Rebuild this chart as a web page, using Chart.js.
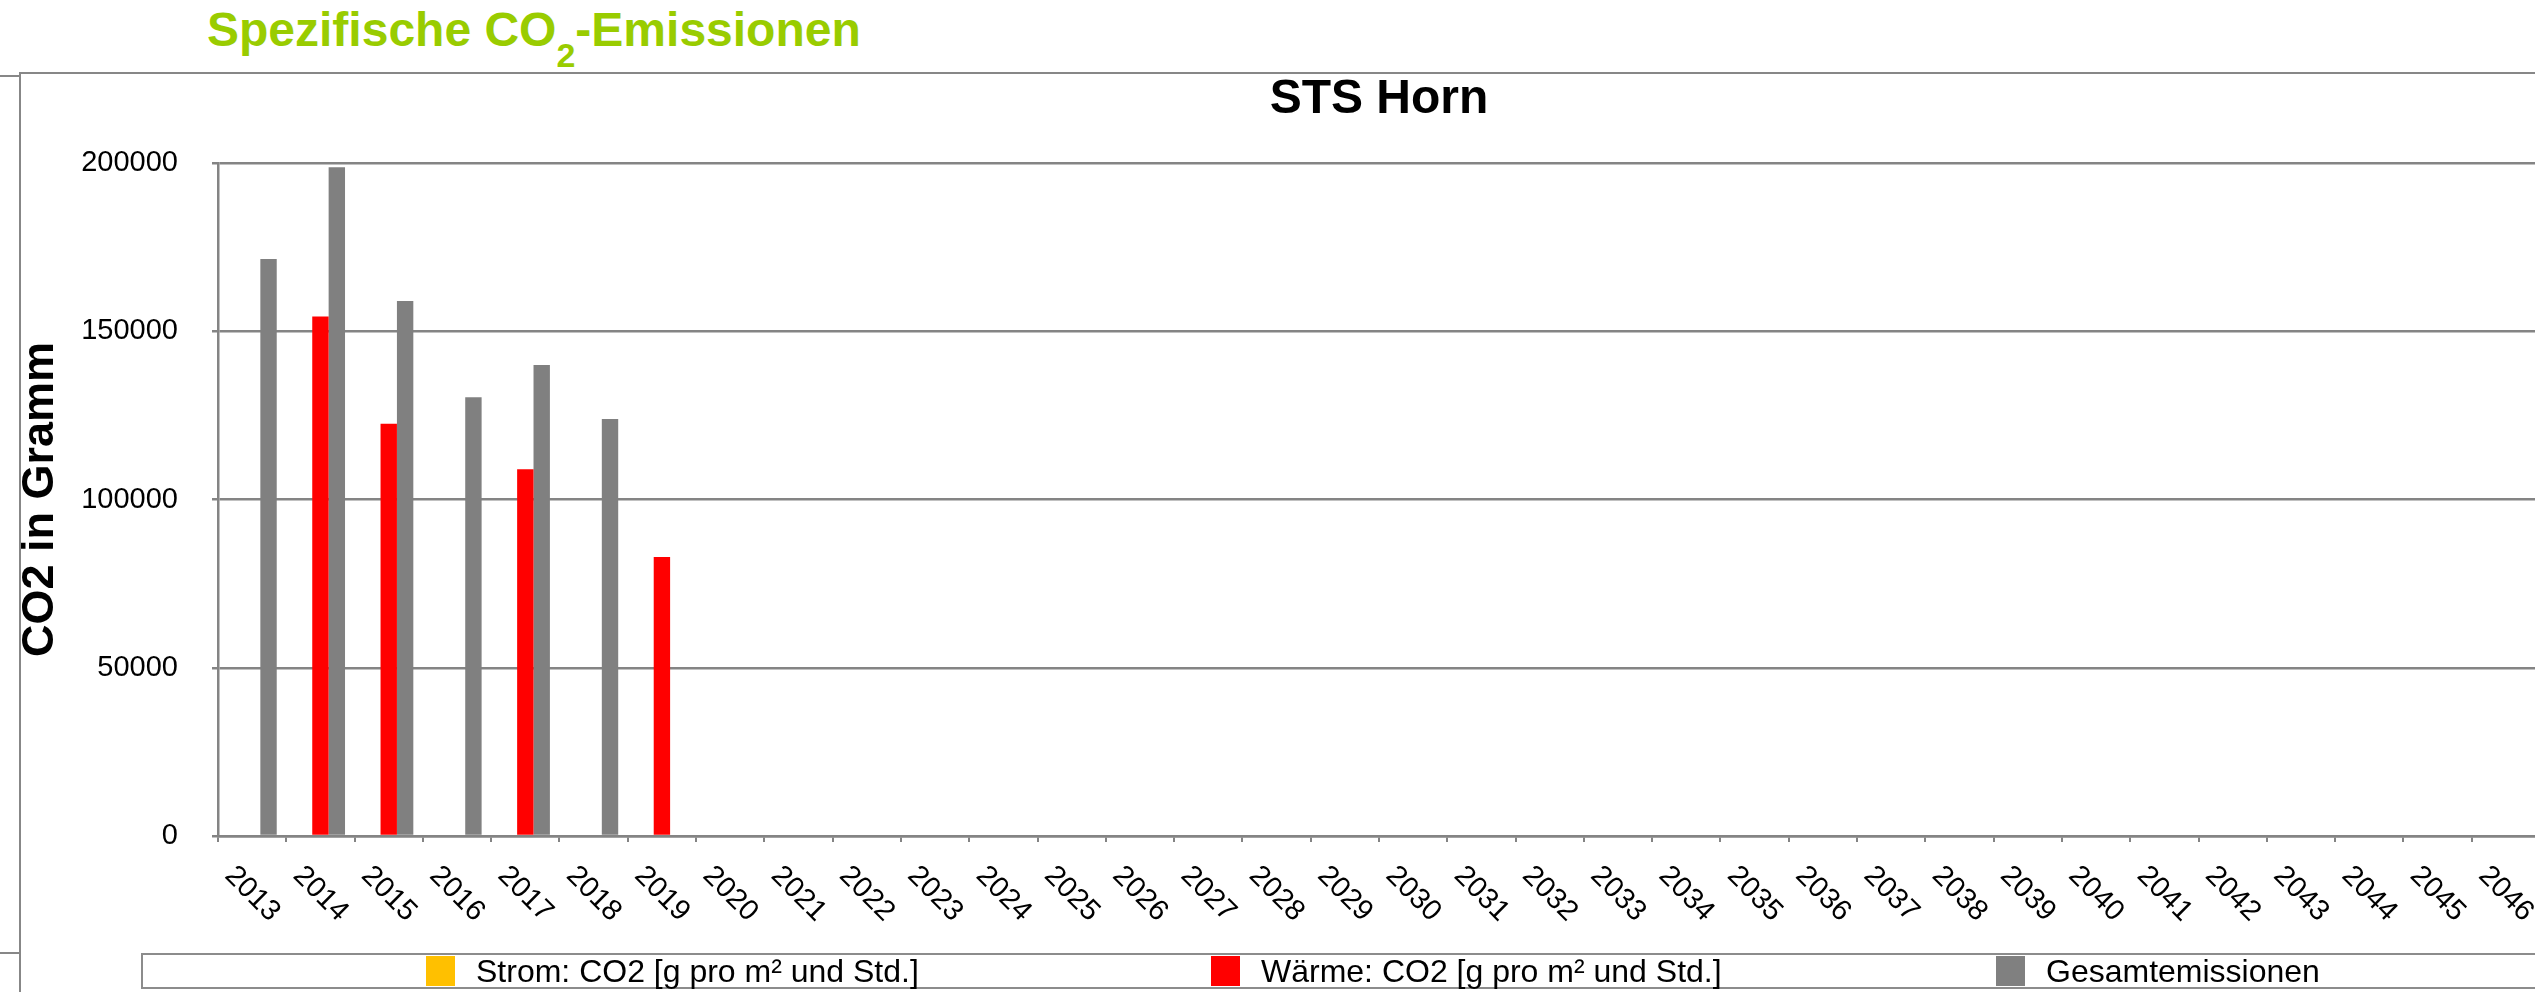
<!DOCTYPE html>
<html lang="de">
<head>
<meta charset="utf-8">
<title>Spezifische CO2-Emissionen - STS Horn</title>
<script src="https://cdn.jsdelivr.net/npm/chart.js@4.4.1/dist/chart.umd.min.js"></script>
<style>
  html, body { margin: 0; padding: 0; background: #fff; overflow: hidden; }
  body { width: 2535px; height: 992px; position: relative; font-family: "Liberation Sans", Arial, sans-serif; }
  .rule { position: absolute; background: #878787; }
  #heading { position: absolute; left: 207px; top: 6px; font-size: 48px; line-height: 48px; font-weight: bold; color: #99cc00; white-space: nowrap; }
  #heading sub { font-size: 34px; line-height: 0; vertical-align: -21px; }
  #chart-wrap { position: absolute; left: 0; top: 0; width: 2560px; height: 992px; }
  #legend { position: absolute; left: 141px; top: 953px; width: 2440px; height: 32px; border: 2px solid #8c8c8c;
            display: flex; align-items: center; padding-left: 283px; box-sizing: content-box; font-size: 32px; color: #000; }
  #legend .item { width: 785px; display: flex; align-items: center; white-space: nowrap; flex: none; }
  #legend .swatch { width: 29px; height: 30px; margin-right: 21px; flex: none; }
</style>
</head>
<body>
<div id="heading">Spezifische CO<sub>2</sub>-Emissionen</div>
<div class="rule" style="left:20px; top:72px; right:0; height:2px;"></div>
<div class="rule" style="left:19px; top:72px; width:2px; bottom:0;"></div>
<div class="rule" style="left:0; top:75px; width:20px; height:2px;"></div>
<div class="rule" style="left:0; top:952px; width:20px; height:2px;"></div>
<div id="chart-wrap"><canvas id="co2-chart" width="2560" height="992"></canvas></div>
<div id="legend"></div>

<script>
// Jahre auf der x-Achse
const years = ['2013', '2014', '2015', '2016', '2017', '2018', '2019', '2020', '2021', '2022',
  '2023', '2024', '2025', '2026', '2027', '2028', '2029', '2030', '2031', '2032', '2033', '2034',
  '2035', '2036', '2037', '2038', '2039', '2040', '2041', '2042', '2043', '2044', '2045', '2046'];

const seriesNames = ['Strom: CO2 [g pro m² und Std.]', 'Wärme: CO2 [g pro m² und Std.]', 'Gesamtemissionen'];
const seriesColors = ['#FFC000', '#FF0000', '#808080'];

// Werte in Gramm
const stromValues = [null, null, null, null, null, null, null];
const waermeValues = [null, 154400, 122500, null, 109000, null, 82900];
const gesamtValues = [171500, 198700, 159000, 130400, 140000, 123900, null];

const yTicks = [0, 50000, 100000, 150000, 200000];

const fontFamily = '"Liberation Sans", Arial, sans-serif';
const lineGray = '#848484';

// Legende als HTML (Excel verteilt die Einträge gleichmäßig)
const legendBox = document.getElementById('legend');
legendBox.innerHTML = seriesNames.map((name, i) => `
  <div class="item"><span class="swatch" style="background:${seriesColors[i]}"></span><span>${name}</span></div>
`).join('');

// x-Beschriftung im Uhrzeigersinn gedreht (wie im Original)
const rotatedYearLabels = {
  id: 'rotatedYearLabels',
  afterDraw(chart) {
    const xs = chart.scales.x;
    const ctx = chart.ctx;
    ctx.save();
    ctx.font = '29px ' + fontFamily;
    ctx.fillStyle = '#000';
    ctx.textAlign = 'center';
    ctx.textBaseline = 'middle';
    xs.ticks.forEach((t, i) => {
      const x = xs.getPixelForTick(i);
      ctx.save();
      ctx.translate(x, xs.top + 58);
      ctx.rotate(Math.PI / 4);
      ctx.fillText(years[i], 0, 0);
      ctx.restore();
    });
    ctx.restore();
  }
};

const ctx = document.getElementById('co2-chart').getContext('2d');
const co2Chart = new Chart(ctx, {
  type: 'bar',
  data: {
    labels: years,
    datasets: [
      { label: seriesNames[0], data: stromValues, backgroundColor: seriesColors[0] },
      { label: seriesNames[1], data: waermeValues, backgroundColor: seriesColors[1] },
      { label: seriesNames[2], data: gesamtValues, backgroundColor: seriesColors[2] }
    ]
  },
  options: {
    responsive: false,
    animation: false,
    categoryPercentage: 0.72,
    barPercentage: 1.0,
    layout: { padding: { top: 70, left: 0, right: 20, bottom: 36 } },
    scales: {
      x: {
        grid: { offset: true, drawOnChartArea: false, drawTicks: true, tickLength: 6, color: lineGray, lineWidth: 2 },
        border: { color: lineGray, width: 2.5 },
        ticks: { display: false },
        afterFit: (scale) => { scale.height = 120; }
      },
      y: {
        min: 0,
        max: 200000,
        afterBuildTicks: (scale) => { scale.ticks = yTicks.map(v => ({ value: v })); },
        grid: { color: lineGray, lineWidth: 2.5, tickLength: 6 },
        border: { color: lineGray, width: 2.5 },
        ticks: {
          color: '#000',
          padding: 34,
          font: { family: fontFamily, size: 29 },
          callback: (value) => String(value)
        },
        title: {
          display: true,
          text: 'CO2 in Gramm',
          color: '#000',
          padding: { top: 14, bottom: 0 },
          font: { family: fontFamily, size: 45, weight: 'bold' }
        },
        afterFit: (scale) => { scale.width = 218; }
      }
    },
    plugins: {
      legend: { display: false },
      tooltip: { enabled: false },
      title: {
        display: true,
        text: 'STS Horn',
        fullSize: false,
        color: '#000',
        padding: { top: 1, bottom: 34.4 },
        font: { family: fontFamily, size: 48, weight: 'bold' }
      }
    }
  },
  plugins: [rotatedYearLabels]
});
</script>
</body>
</html>
